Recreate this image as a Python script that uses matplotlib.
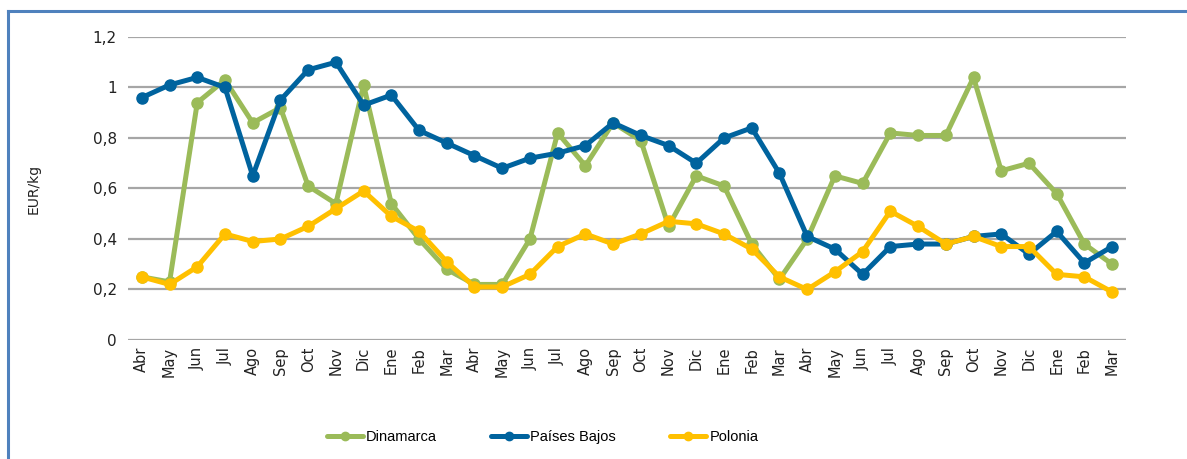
import matplotlib
matplotlib.use("Agg")
import matplotlib.pyplot as plt
from matplotlib.lines import Line2D

months = ["Abr", "May", "Jun", "Jul", "Ago", "Sep", "Oct", "Nov", "Dic", "Ene", "Feb", "Mar",
          "Abr", "May", "Jun", "Jul", "Ago", "Sep", "Oct", "Nov", "Dic", "Ene", "Feb", "Mar",
          "Abr", "May", "Jun", "Jul", "Ago", "Sep", "Oct", "Nov", "Dic", "Ene", "Feb", "Mar"]

dinamarca = [0.25, 0.23, 0.94, 1.03, 0.86, 0.92, 0.61, 0.54, 1.01, 0.54, 0.40, 0.28,
             0.22, 0.22, 0.40, 0.82, 0.69, 0.86, 0.79, 0.45, 0.65, 0.61, 0.38, 0.24,
             0.40, 0.65, 0.62, 0.82, 0.81, 0.81, 1.04, 0.67, 0.70, 0.58, 0.38, 0.30]

paises_bajos = [0.96, 1.01, 1.04, 1.00, 0.65, 0.95, 1.07, 1.10, 0.93, 0.97, 0.83, 0.78,
                0.73, 0.68, 0.72, 0.74, 0.77, 0.86, 0.81, 0.77, 0.70, 0.80, 0.84, 0.66,
                0.41, 0.36, 0.26, 0.37, 0.38, 0.38, 0.41, 0.42, 0.34, 0.43, 0.305, 0.37]

polonia = [0.25, 0.22, 0.29, 0.42, 0.39, 0.40, 0.45, 0.52, 0.59, 0.49, 0.43, 0.31,
           0.21, 0.21, 0.26, 0.37, 0.42, 0.38, 0.42, 0.47, 0.46, 0.42, 0.36, 0.25,
           0.20, 0.27, 0.35, 0.51, 0.45, 0.38, 0.41, 0.37, 0.37, 0.26, 0.25, 0.19]

y_ticks = [0, 0.2, 0.4, 0.6, 0.8, 1.0, 1.2]
y_tick_labels = ["0", "0,2", "0,4", "0,6", "0,8", "1", "1,2"]

series = [
    ("Dinamarca", dinamarca, "#9BBB59"),
    ("Países Bajos", paises_bajos, "#00639E"),
    ("Polonia", polonia, "#FFC000"),
]

fig = plt.figure(figsize=(11.87, 4.59), dpi=100)
ax = fig.add_axes([0.1078, 0.2593, 0.8408, 0.6601])

x = list(range(len(months)))
handles = []
for name, vals, col in series:
    ax.plot(x, vals, color=col, lw=3.6, marker="o", ms=8,
            solid_capstyle="round", solid_joinstyle="round", zorder=3)
    handles.append(Line2D([], [], color=col, lw=3.6, marker="o", ms=6,
                          solid_capstyle="round", label=name))

ax.set_xlim(-0.5, len(months) - 0.5)
ax.set_ylim(0, 1.2)
ax.set_yticks(y_ticks)
ax.set_yticklabels(y_tick_labels, fontsize=11, color="#222222")
ax.set_xticks(x)
ax.set_xticklabels(months, rotation=90, fontsize=10.5, color="#222222")
ax.tick_params(length=0, pad=8)
ax.tick_params(axis="x", pad=5)
ax.grid(axis="y", color="#A6A6A6", lw=1.6, zorder=0)
ax.set_axisbelow(True)
for s in ax.spines.values():
    s.set_visible(False)
ax.set_ylabel("EUR/kg", fontsize=10, color="#222222")
ax.yaxis.set_label_coords(-0.088, 0.5)

fig.legend(handles=handles, loc="center", bbox_to_anchor=(0.457, 0.048), ncol=3,
           frameon=False, prop={"family": "Liberation Sans", "size": 10.5},
           handlelength=2.5, handletextpad=0.2, columnspacing=3.7)

# frame around the chart
frame_col = "#4F81BD"
fig.add_artist(Line2D([8 / 1187, 8 / 1187], [0, 1 - 11 / 459], color=frame_col, lw=2.2))
fig.add_artist(Line2D([8 / 1187, 1], [1 - 11 / 459, 1 - 11 / 459], color=frame_col, lw=2.2))

fig.savefig("out.png", dpi=100)
